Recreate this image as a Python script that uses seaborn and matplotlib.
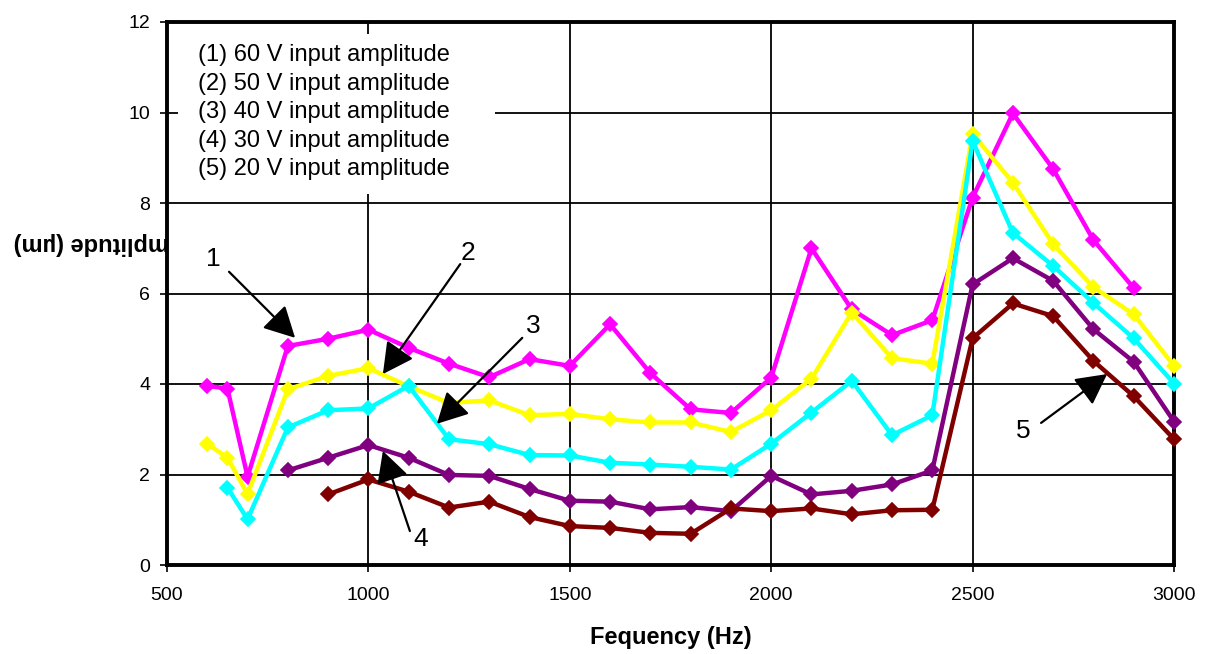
import pandas as pd
import matplotlib.pyplot as plt
import seaborn as sns
from matplotlib.patches import Rectangle

# amplitude vs frequency for five drive levels
freq_60v = [600, 650, 700, 800, 900, 1000, 1100, 1200, 1300, 1400, 1500, 1600, 1700,
            1800, 1900, 2000, 2100, 2200, 2300, 2400, 2500, 2600, 2700, 2800, 2900]
amp_60v = [3.96, 3.9, 1.95, 4.84, 5.0, 5.2, 4.8, 4.45, 4.15, 4.55, 4.4, 5.32, 4.24,
           3.44, 3.36, 4.14, 7.0, 5.65, 5.08, 5.41, 8.12, 9.98, 8.75, 7.18, 6.12]

freq_50v = [600, 650, 700, 800, 900, 1000, 1100, 1200, 1300, 1400, 1500, 1600, 1700,
            1800, 1900, 2000, 2100, 2200, 2300, 2400, 2500, 2600, 2700, 2800, 2900, 3000]
amp_50v = [2.68, 2.37, 1.57, 3.88, 4.18, 4.35, 3.95, 3.58, 3.64, 3.31, 3.34, 3.22, 3.15,
           3.15, 2.94, 3.42, 4.12, 5.58, 4.57, 4.45, 9.53, 8.45, 7.09, 6.14, 5.54, 4.4]

freq_40v = [650, 700, 800, 900, 1000, 1100, 1200, 1300, 1400, 1500, 1600, 1700,
            1800, 1900, 2000, 2100, 2200, 2300, 2400, 2500, 2600, 2700, 2800, 2900, 3000]
amp_40v = [1.71, 1.01, 3.04, 3.42, 3.46, 3.96, 2.78, 2.67, 2.43, 2.42, 2.26, 2.22,
           2.17, 2.11, 2.68, 3.37, 4.07, 2.87, 3.31, 9.37, 7.34, 6.61, 5.79, 5.01, 4.01]

freq_30v = [800, 900, 1000, 1100, 1200, 1300, 1400, 1500, 1600, 1700,
            1800, 1900, 2000, 2100, 2200, 2300, 2400, 2500, 2600, 2700, 2800, 2900, 3000]
amp_30v = [2.09, 2.37, 2.65, 2.37, 1.99, 1.97, 1.68, 1.42, 1.4, 1.23,
           1.28, 1.19, 1.97, 1.56, 1.64, 1.78, 2.09, 6.2, 6.78, 6.28, 5.21, 4.49, 3.17]

freq_20v = [900, 1000, 1100, 1200, 1300, 1400, 1500, 1600, 1700,
            1800, 1900, 2000, 2100, 2200, 2300, 2400, 2500, 2600, 2700, 2800, 2900, 3000]
amp_20v = [1.56, 1.89, 1.62, 1.27, 1.4, 1.06, 0.86, 0.82, 0.71,
           0.69, 1.25, 1.19, 1.25, 1.12, 1.21, 1.22, 5.01, 5.78, 5.5, 4.51, 3.73, 2.78]

series_names = ['1', '2', '3', '4', '5']
series_colors = ['#FF00FF', '#FFFF00', '#00FFFF', '#800080', '#800000']
legend_labels = ['(1) 60 V input amplitude', '(2) 50 V input amplitude',
                 '(3) 40 V input amplitude', '(4) 30 V input amplitude',
                 '(5) 20 V input amplitude']

# long-form table for seaborn
frames = []
for name, f, a in zip(series_names,
                      [freq_60v, freq_50v, freq_40v, freq_30v, freq_20v],
                      [amp_60v, amp_50v, amp_40v, amp_30v, amp_20v]):
    frames.append(pd.DataFrame({'freq': f, 'amp': a, 'series': name}))
data = pd.concat(frames, ignore_index=True)

sns.set_style("white")
plt.rcParams['font.family'] = ['Liberation Sans', 'DejaVu Sans']
plt.rcParams['text.color'] = 'black'
plt.rcParams['axes.labelcolor'] = 'black'
plt.rcParams['xtick.color'] = 'black'
plt.rcParams['ytick.color'] = 'black'

fig = plt.figure(figsize=(12.07, 6.54), dpi=100)
ax = fig.add_axes([167 / 1207, 1 - 565 / 654, 1007 / 1207, 543 / 654])

sns.lineplot(data=data, x='freq', y='amp', hue='series', palette=dict(zip(series_names, series_colors)),
             marker='D', markersize=7, markeredgewidth=1.2, linewidth=3.2, legend=False,
             ax=ax, zorder=3)
for line, c in zip(ax.lines, series_colors):
    line.set_markeredgecolor(c)
    line.set_clip_on(False)

ax.set_xlim(500, 3000)
ax.set_ylim(0, 12)
ax.set_xticks(range(500, 3001, 500))
ax.set_yticks(range(0, 13, 2))
ax.grid(True, color='black', linewidth=1.3)
ax.set_axisbelow(True)
for sp in ax.spines.values():
    sp.set_visible(True)
    sp.set_color('black')
    sp.set_linewidth(2.8)
ax.tick_params(axis='x', direction='out', length=5, width=1.2, pad=11, labelsize=14)
ax.tick_params(axis='y', direction='out', length=5, width=1.2, pad=7, labelsize=14)
ax.tick_params(bottom=True, left=True, colors='black')
ax.set_xlabel('Fequency (Hz)', fontsize=17, fontweight='bold', labelpad=16, color='black')
ax.set_ylabel('')

# white box behind the legend text
ax.add_patch(Rectangle((0.011, 0.683), 0.315, 0.295, transform=ax.transAxes,
                       facecolor='white', edgecolor='none', zorder=1.5))
for i, lab in enumerate(legend_labels):
    ax.text(0.031, 0.939 - i * 0.0525, lab, transform=ax.transAxes, fontsize=17,
            ha='left', va='center', color='black', zorder=4)

# numbered arrows
arrows = [((614, 6.76), (654, 6.48), (818, 5.02)),
          ((1247, 6.9), (1228, 6.65), (1036, 4.22)),
          ((1409, 5.28), (1382, 5.02), (1170, 3.12)),
          ((1131, 0.57), (1103, 0.75), (1036, 2.52)),
          ((2626, 2.96), (2670, 3.14), (2834, 4.22))]
for name, (txt, tail, tip) in zip(series_names, arrows):
    ax.annotate('', xy=tip, xytext=tail,
                arrowprops=dict(arrowstyle='-|>,head_length=1.9,head_width=1.0',
                                color='black', lw=1.6, mutation_scale=10,
                                shrinkA=0, shrinkB=0), zorder=5)
    ax.text(txt[0], txt[1], name, fontsize=19, ha='center', va='center', color='black', zorder=5)

# y label is upside down in the original and partly hidden by the plot area
fig.text(100 / 1207, 1 - 243 / 654, 'Amplitude (µm)', rotation=180, fontsize=17,
         fontweight='bold', ha='center', va='center', color='black', zorder=-1)

fig.savefig('out.png', dpi=100)
